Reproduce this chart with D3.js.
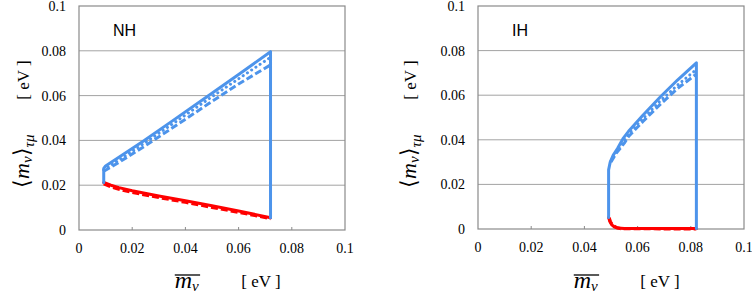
<!DOCTYPE html>
<html>
<head>
<meta charset="utf-8">
<script src="https://cdn.jsdelivr.net/npm/d3@7/dist/d3.min.js"></script>
<style>
  body { margin: 0; background: #fff; }
  svg { display: block; }
</style>
</head>
<body>
<div id="chart"></div>
<script>
// tick values shared by both panels
var xTicks = [0, 0.02, 0.04, 0.06, 0.08, 0.1];
var yTicks = [0, 0.02, 0.04, 0.06, 0.08, 0.1];

// NH panel, [m_bar, <m>_tau mu]
var nhBlueSolid = [[0.0093,0.0212],[0.0093,0.0275],[0.0100,0.0286],[0.015,0.0325],[0.0244,0.0398],[0.035,0.0486],[0.0485,0.0598],[0.060,0.0694],[0.072,0.0796],[0.072,0.0055]];
var nhBlueDotted = [[0.0093,0.0268],[0.015,0.0312],[0.0244,0.0386],[0.035,0.0472],[0.0485,0.0583],[0.060,0.0675],[0.072,0.0771]];
var nhBlueDashed = [[0.0093,0.0262],[0.015,0.0302],[0.0244,0.0372],[0.035,0.0455],[0.0485,0.0562],[0.060,0.0652],[0.072,0.0737]];
var nhRedSolid = [[0.0093,0.0212],[0.012,0.0200],[0.015,0.0189],[0.020,0.0175],[0.030,0.0152],[0.040,0.0131],[0.050,0.0108],[0.060,0.0085],[0.072,0.0055]];
var nhRedDashed = [[0.0093,0.0206],[0.012,0.0193],[0.015,0.0182],[0.020,0.0168],[0.030,0.0145],[0.040,0.0124],[0.050,0.0101],[0.060,0.0079],[0.072,0.0051]];

// IH panel
var ihBlueSolid = [[0.0491,0.0052],[0.0491,0.0265],[0.0497,0.0300],[0.0508,0.0330],[0.0525,0.0362],[0.0545,0.0405],[0.0566,0.0438],[0.062,0.0510],[0.0686,0.0593],[0.075,0.0668],[0.0821,0.0745],[0.0821,0.0002]];
var ihBlueDotted = [[0.0500,0.0305],[0.052,0.0345],[0.055,0.0395],[0.0566,0.0425],[0.062,0.0495],[0.0686,0.0575],[0.075,0.0645],[0.0821,0.0715]];
var ihBlueDashed = [[0.0500,0.0300],[0.052,0.0340],[0.055,0.0385],[0.0566,0.0415],[0.062,0.0482],[0.0686,0.0560],[0.075,0.0630],[0.0821,0.0695]];
var ihRedSolid = [[0.0491,0.0052],[0.0495,0.0035],[0.0502,0.0020],[0.0512,0.0010],[0.0525,0.0004],[0.055,0.0002],[0.0821,0.0002]];
var ihRedDashed = [[0.0493,0.0050],[0.0498,0.0032],[0.0507,0.0016],[0.0520,0.0007],[0.0535,0.0002],[0.0821,0.0000]];

var blue = "#4d94eb", red = "#ff0000";
var serif = "'Liberation Serif', 'Times New Roman', serif";

var svg = d3.select("#chart").append("svg")
    .attr("width", 752).attr("height", 293);

function drawPanel(ox, top, h, label, ylabOff, series) {
  var x = d3.scaleLinear().domain([0, 0.1]).range([ox, ox + 266]);
  var y = d3.scaleLinear().domain([0, 0.1]).range([top + h, top]);
  var g = svg.append("g");

  // gridlines
  g.selectAll(".grid").data(yTicks.slice(1, -1)).enter().append("line")
    .attr("x1", x(0)).attr("x2", x(0.1))
    .attr("y1", function(d){ return y(d); }).attr("y2", function(d){ return y(d); })
    .attr("stroke", "#a3a3a3").attr("stroke-width", 1);

  // frame
  g.append("rect")
    .attr("x", x(0)).attr("y", y(0.1))
    .attr("width", x(0.1) - x(0)).attr("height", y(0) - y(0.1))
    .attr("fill", "none").attr("stroke", "#8a8a8a").attr("stroke-width", 1.2);

  // small inner ticks on x axis
  g.selectAll(".xt").data(xTicks.slice(1, -1)).enter().append("line")
    .attr("x1", function(d){ return x(d); }).attr("x2", function(d){ return x(d); })
    .attr("y1", y(0)).attr("y2", y(0) - 3)
    .attr("stroke", "#8a8a8a");

  g.selectAll(".xl").data(xTicks).enter().append("text")
    .attr("x", function(d){ return x(d); }).attr("y", y(0) + 23)
    .attr("text-anchor", "middle")
    .style("font-family", serif).style("font-size", "14px")
    .text(function(d){ return d; });

  g.selectAll(".yl").data(yTicks).enter().append("text")
    .attr("x", x(0) - 13).attr("y", function(d){ return y(d); })
    .attr("dy", "0.36em")
    .attr("text-anchor", "end")
    .style("font-family", serif).style("font-size", "14px")
    .text(function(d){ return d; });

  g.append("text")
    .attr("x", x(0) + 34).attr("y", top + 30)
    .style("font-family", "'Liberation Sans', Arial, sans-serif").style("font-size", "16px")
    .text(label);

  var line = d3.line().x(function(d){ return x(d[0]); }).y(function(d){ return y(d[1]); });

  function path(data, color, w, dash, cap) {
    g.append("path").attr("d", line(data))
      .attr("fill", "none").attr("stroke", color).attr("stroke-width", w)
      .attr("stroke-dasharray", dash).attr("stroke-linecap", cap)
      .attr("stroke-linejoin", "round");
  }
  path(series.redDashed, red, 3.2, "7 3", "butt");
  path(series.redSolid, red, 3, null, "round");
  path(series.blueDashed, blue, 3, "7 3", "butt");
  path(series.blueDotted, blue, 3, "0.1 5", "round");
  path(series.blueSolid, blue, 3, null, "round");

  // x title: overlined m with subscript nu, then unit
  var xt = g.append("text")
    .attr("x", x(0.036)).attr("y", 288)
    .style("font-family", serif);
  xt.append("tspan").style("font-style", "italic").style("font-size", "24px").text("m");
  xt.append("tspan").style("font-style", "italic").style("font-size", "15px").attr("dy", 3).text("ν");
  var bb = xt.node().getBBox();
  g.append("line")
    .attr("x1", bb.x).attr("x2", bb.x + bb.width + 1)
    .attr("y1", 275).attr("y2", 275)
    .attr("stroke", "#000").attr("stroke-width", 1.3);
  g.append("text")
    .attr("x", x(0.061)).attr("y", 287)
    .style("font-family", serif).style("font-size", "17px")
    .text("[ eV ]");

  // y title (rotated)
  var yt = g.append("text")
    .attr("transform", "translate(" + (x(0) - ylabOff) + "," + (top + 182) + ") rotate(-90)")
    .style("font-family", serif);
  yt.append("tspan").style("font-size", "22px").text("⟨");
  yt.append("tspan").style("font-style", "italic").style("font-size", "22px").text("m");
  yt.append("tspan").style("font-style", "italic").style("font-size", "15px").attr("dy", 3).text("ν");
  yt.append("tspan").style("font-size", "22px").attr("dy", -3).text("⟩");
  yt.append("tspan").style("font-style", "italic").style("font-size", "15px").attr("dy", 5).text("τμ");
  g.append("text")
    .attr("transform", "translate(" + (x(0) - ylabOff) + "," + (top + 74) + ") rotate(-90)")
    .attr("text-anchor", "middle")
    .style("font-family", serif).style("font-size", "17px")
    .text("[ eV ]");
}

drawPanel(79, 6, 224, "NH", 50, {
  blueSolid: nhBlueSolid, blueDotted: nhBlueDotted, blueDashed: nhBlueDashed,
  redSolid: nhRedSolid, redDashed: nhRedDashed
});
drawPanel(478, 6, 223, "IH", 62, {
  blueSolid: ihBlueSolid, blueDotted: ihBlueDotted, blueDashed: ihBlueDashed,
  redSolid: ihRedSolid, redDashed: ihRedDashed
});
</script>
</body>
</html>
